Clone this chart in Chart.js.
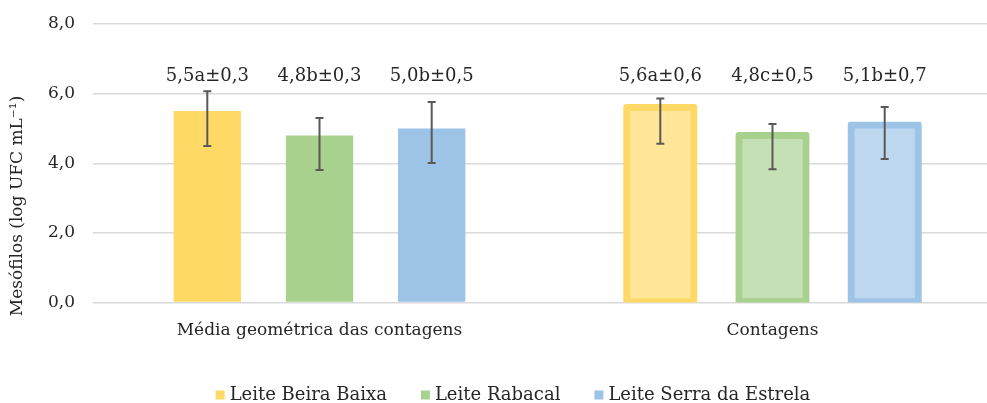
<!DOCTYPE html>
<html>
<head>
<meta charset="utf-8">
<script src="https://cdn.jsdelivr.net/npm/chart.js@4"></script>
<style>
  body { margin: 0; overflow: hidden; background: #fff; }
  #wrap { width: 1000px; height: 403px; }
</style>
</head>
<body>
<div id="wrap"><canvas id="chart"></canvas></div>
<script>
// data
const categories = ['Média geométrica das contagens', 'Contagens'];
const seriesNames = ['Leite Beira Baixa', 'Leite Rabacal', 'Leite Serra da Estrela'];
const beiraBaixa = [5.5, 5.6];
const rabacal = [4.8, 4.8];
const serraEstrela = [5.0, 5.1];
// error bar ends (lower / upper) as drawn
const beiraLow = [4.50, 4.56];
const beiraHigh = [6.07, 5.86];
const rabacalLow = [3.81, 3.83];
const rabacalHigh = [5.30, 5.13];
const serraLow = [4.01, 4.12];
const serraHigh = [5.76, 5.62];
// text above the bars
const beiraText = ['5,5a±0,3', '5,6a±0,6'];
const rabacalText = ['4,8b±0,3', '4,8c±0,5'];
const serraText = ['5,0b±0,5', '5,1b±0,7'];
const yTicks = [0, 2, 4, 6, 8];
const yTitle = 'Mesófilos (log UFC mL⁻¹)';

const FONT = 'DejaVu Serif';
const TEXT = '#262626';
const solid = ['#FFD966', '#A9D18E', '#9DC3E6'];
const light = ['#FFE699', '#C5E0B4', '#BDD7EE'];

const lows = [beiraLow, rabacalLow, serraLow];
const highs = [beiraHigh, rabacalHigh, serraHigh];
const texts = [beiraText, rabacalText, serraText];

function makeSet(i, data) {
    return {
        label: seriesNames[i],
        data: data,
        backgroundColor: [solid[i], light[i]],
        borderColor: solid[i],
        borderWidth: [0, 7],
        borderSkipped: false,
        borderRadius: [0, 3],
        inflateAmount: [0, 3.5],
        barPercentage: 0.6,
        categoryPercentage: 0.743
    };
}

const extras = {
    id: 'extras',
    afterDatasetsDraw(chart) {
        const ctx = chart.ctx;
        const y = chart.scales.y;
        ctx.save();
        chart.data.datasets.forEach(function(ds, i) {
            const meta = chart.getDatasetMeta(i);
            meta.data.forEach(function(bar, j) {
                const yl = y.getPixelForValue(lows[i][j]);
                const yh = y.getPixelForValue(highs[i][j]);
                ctx.strokeStyle = '#595959';
                ctx.lineWidth = 2;
                ctx.beginPath();
                ctx.moveTo(bar.x, yl); ctx.lineTo(bar.x, yh);
                ctx.moveTo(bar.x - 4, yl); ctx.lineTo(bar.x + 4, yl);
                ctx.moveTo(bar.x - 4, yh); ctx.lineTo(bar.x + 4, yh);
                ctx.stroke();
                ctx.fillStyle = TEXT;
                ctx.font = '18px "' + FONT + '"';
                ctx.textAlign = 'center';
                ctx.textBaseline = 'middle';
                ctx.fillText(texts[i][j], bar.x, y.getPixelForValue(6.5));
            });
        });
        ctx.restore();
    },
    afterDraw(chart) {
        const ctx = chart.ctx;
        ctx.save();
        // y axis title, sitting a bit low like in the reference
        ctx.font = '17px "' + FONT + '"';
        ctx.fillStyle = TEXT;
        ctx.textAlign = 'center';
        ctx.textBaseline = 'middle';
        ctx.translate(18, 206);
        ctx.rotate(-Math.PI / 2);
        ctx.fillText(yTitle, 0, 0);
        ctx.restore();

        // legend row at the bottom, a little right of centre
        ctx.save();
        ctx.font = '18px "' + FONT + '"';
        ctx.textBaseline = 'middle';
        ctx.textAlign = 'left';
        const box = 9, gap = 5, spacing = 34, cy = 395;
        const widths = seriesNames.map(function(n) { return box + gap + ctx.measureText(n).width; });
        const total = widths.reduce(function(a, b) { return a + b; }, 0) + spacing * (widths.length - 1);
        let x = 513 - total / 2;
        seriesNames.forEach(function(n, i) {
            ctx.fillStyle = solid[i];
            ctx.fillRect(x, cy - box / 2, box, box);
            ctx.fillStyle = TEXT;
            ctx.fillText(n, x + box + gap, cy);
            x += widths[i] + spacing;
        });
        ctx.restore();
    }
};

new Chart(document.getElementById('chart'), {
    type: 'bar',
    data: {
        labels: categories,
        datasets: [makeSet(0, beiraBaixa), makeSet(1, rabacal), makeSet(2, serraEstrela)]
    },
    options: {
        responsive: true,
        maintainAspectRatio: false,
        animation: false,
        layout: { padding: { top: 24, right: 1, bottom: 52, left: 0 } },
        plugins: {
            tooltip: { enabled: false },
            legend: { display: false }
        },
        scales: {
            x: {
                grid: { display: false },
                border: { display: false },
                ticks: { font: { family: FONT, size: 17 }, color: TEXT, padding: 10 }
            },
            y: {
                min: 0,
                max: 8,
                afterBuildTicks: function(scale) {
                    scale.ticks = yTicks.map(function(v) { return { value: v }; });
                },
                afterFit: function(scale) {
                    scale.width = 93;
                    scale.paddingTop = 0;
                    scale.paddingBottom = 0;
                },
                grid: { color: '#d9d9d9', lineWidth: 1.5, drawTicks: false },
                border: { display: false },
                ticks: {
                    font: { family: FONT, size: 17 },
                    color: TEXT,
                    padding: 18,
                    callback: function(v) { return v.toFixed(1).replace('.', ','); }
                }
            }
        }
    },
    plugins: [extras]
});
</script>
</body>
</html>
